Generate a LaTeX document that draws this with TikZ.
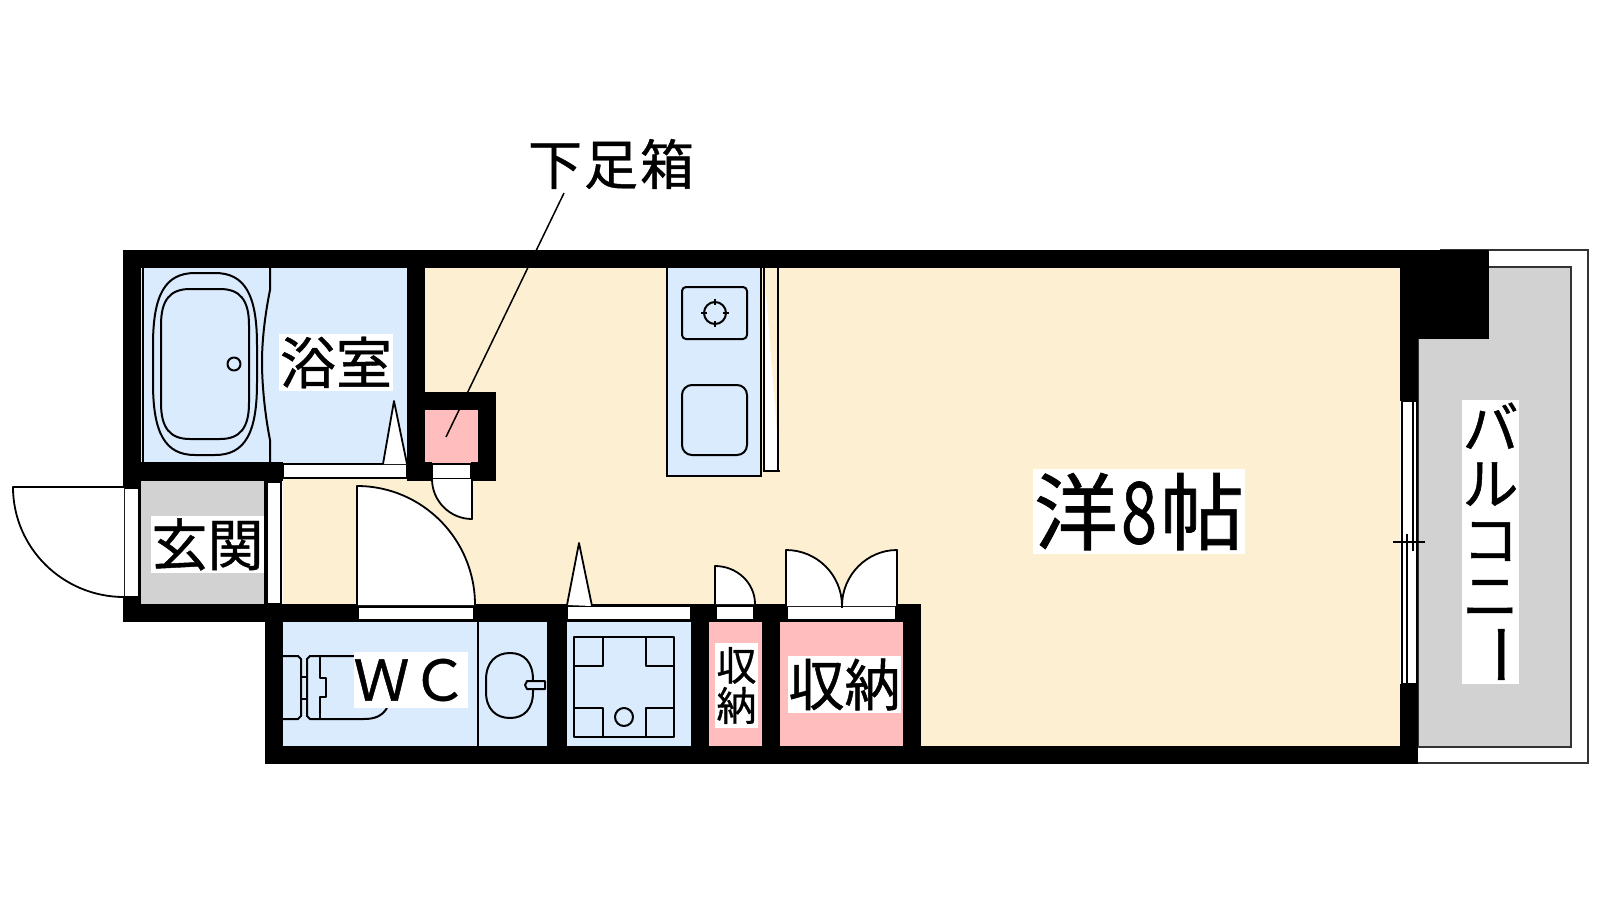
\documentclass[tikz,border=0pt]{standalone}
\usepackage{fontspec}
\usepackage{graphicx}
\newfontfamily\jp[FakeBold=0.8]{Noto Sans CJK JP}
\newcommand{\jpf}[1]{\jp\fontsize{#1}{#1}\selectfont}
\definecolor{beige}{HTML}{FDF0D2}
\definecolor{bluefl}{HTML}{DAEBFE}
\definecolor{grayfl}{HTML}{D2D2D2}
\definecolor{pinkfl}{HTML}{FFBDBD}
\tikzset{
  wall/.style={fill=black,draw=none},
  slot/.style={fill=white,draw=black,line width=1.5pt},
  door/.style={fill=white,draw=black,line width=1.8pt,line join=round},
  fix/.style={draw=black,line width=2pt,line join=round},
  thin line/.style={draw=black,line width=1.5pt},
  lbl/.style={fill=white,inner sep=0pt,text=black,align=center}
}
\begin{document}
\begin{tikzpicture}[x=1pt,y=-1pt]
\useasboundingbox (0,0) rectangle (1600,900);
\fill[white] (0,0) rectangle (1600,900);
% floors
\fill[beige] (425,268) -- (1400,268) -- (1400,746) -- (921,746) -- (921,604) -- (283,604) -- (283,470) -- (425,470) -- cycle;
\fill[bluefl] (141,268) rectangle (407,465);
\fill[grayfl] (141,481) rectangle (264,604);
\fill[bluefl] (283,622) rectangle (547,746);
\fill[bluefl] (567,622) rectangle (691,746);
\fill[pinkfl] (709,622) rectangle (762,746);
\fill[pinkfl] (780,622) rectangle (903,746);
\fill[pinkfl] (425,410) rectangle (478,464);
% balcony
\draw[fill=white,draw=black!80,line width=1.8pt] (1440,250) -- (1588,250) -- (1588,763) -- (1410,763);
\draw[fill=grayfl,draw=black!80,line width=1.8pt] (1418,267) -- (1571,267) -- (1571,747) -- (1418,747) -- cycle;
% walls
\fill[wall] (123,250) rectangle (1418,268);
\fill[wall] (123,250) rectangle (141,622);
\fill[wall] (123,462) rectangle (283,481);
\fill[wall] (407,268) rectangle (425,481);
\fill[wall] (407,392) rectangle (496,410);
\fill[wall] (478,392) rectangle (496,481);
\fill[wall] (425,462) rectangle (432,481);
\fill[wall] (471,462) rectangle (496,481);
\fill[wall] (123,604) rectangle (921,622);
\fill[wall] (265,604) rectangle (283,764);
\fill[wall] (547,604) rectangle (567,764);
\fill[wall] (691,604) rectangle (709,764);
\fill[wall] (762,604) rectangle (780,764);
\fill[wall] (903,604) rectangle (921,764);
\fill[wall] (265,746) rectangle (1418,764);
\fill[wall] (1400,250) rectangle (1418,401);
\fill[wall] (1400,684) rectangle (1418,764);
\fill[wall] (1400,250) rectangle (1489,339);
% openings
\draw[slot] (124,488) rectangle (139,597);
\draw[slot] (267,482) rectangle (281,604);
\draw[thin line] (265,481) -- (265,604);
\draw[slot] (283,464) rectangle (407,478);
\draw[slot] (432,464) rectangle (471,479);
\draw[slot] (358,607) rectangle (474,620);
\draw[slot] (567,606) rectangle (691,620);
\draw[slot] (716,606) rectangle (754,620);
\draw[slot] (787,606) rectangle (896,620);
% balcony window
\fill[white] (1402,401) rectangle (1417,684);
\draw[thin line] (1402,401) -- (1402,684) (1417,401) -- (1417,684) (1402,401) -- (1417,401) (1402,684) -- (1417,684);
\draw[thin line] (1413,401) -- (1413,551);
\draw[thin line] (1407,534) -- (1407,684);
\draw[thin line] (1393,542) -- (1425,542);
% doors
\draw[door] (124,487) -- (13,487) .. controls (13,548) and (63,597) .. (124,597);
\draw[door] (357,605) -- (357,486) .. controls (422,486) and (475,539) .. (475,605);
\draw[door] (472,479) -- (472,519) .. controls (450,519) and (432,501) .. (432,479);
\draw[door] (715,604) -- (715,566) .. controls (737,566) and (755,583) .. (755,604);
\draw[door] (786,606) -- (786,550) .. controls (817,550) and (842,575) .. (842,606);
\draw[door] (897,606) -- (897,550) .. controls (867,550) and (842,575) .. (842,606);
\draw[door] (383,464) -- (394,401) -- (407,464);
\draw[door] (567,605) -- (579,543) -- (592,606);
% bath
\draw[thin line] (143,268) -- (143,462);
\draw[fix] (153,345) .. controls (153,295) and (165,273) .. (195,273) -- (215,273) .. controls (245,273) and (257,295) .. (257,345) -- (257,383) .. controls (257,433) and (245,455) .. (215,455) -- (195,455) .. controls (165,455) and (153,433) .. (153,383) -- cycle;
\draw[fix] (161,325) .. controls (161,300) and (170,289) .. (190,289) -- (220,289) .. controls (240,289) and (249,300) .. (249,325) -- (249,403) .. controls (249,428) and (240,439) .. (220,439) -- (190,439) .. controls (170,439) and (161,428) .. (161,403) -- cycle;
\draw[fix] (234,364) circle[radius=6.5];
\draw[fix] (270,268) -- (270,290) .. controls (265,315) and (262,340) .. (262,362) .. controls (262,385) and (265,415) .. (270,440) -- (270,462);
% kitchen
\draw[thin line,fill=bluefl] (667,268) -- (667,476) -- (761,476) -- (761,268);
\draw[thin line,fill=white] (764,268) -- (764,471) -- (780,471) (778,471) -- (778,268);
\draw[fix,rounded corners=4pt] (682,287) rectangle (747,339);
\draw[fix] (715,313) circle[radius=11];
\draw[fix] (715,299) -- (715,305) (715,321) -- (715,327) (701,313) -- (707,313) (723,313) -- (729,313);
\draw[fix,rounded corners=10pt] (682,385) rectangle (747,455);
% WC
\draw[thin line] (478,622) -- (478,746);
\draw[fix] (283,656) -- (298,656) -- (301,659) -- (301,716) -- (298,719) -- (283,719);
\draw[fix] (301,677) -- (307,677) (301,699) -- (307,699);
\draw[fix] (354,656) -- (310,656) -- (307,659) -- (307,716) -- (310,719) -- (364,719) .. controls (375,719) and (382,716) .. (387,708);
\draw[fix] (320,656) -- (320,678) -- (326,678) -- (326,697) -- (320,697) -- (320,719);
\draw[fix] (486,680) .. controls (486,662) and (496,653) .. (510,653) .. controls (524,653) and (533,662) .. (533,680) -- (533,692) .. controls (533,709) and (524,718) .. (510,718) .. controls (496,718) and (486,709) .. (486,692) -- cycle;
\draw[fix,fill=bluefl] (527,681) -- (545,681) -- (545,689) -- (527,689) -- (525,685) -- cycle;
% washing unit
\draw[fix] (574,637) rectangle (674,737);
\draw[fix] (603,637) -- (603,666) -- (574,666);
\draw[fix] (646,637) -- (646,666) -- (674,666);
\draw[fix] (603,737) -- (603,708) -- (574,708);
\draw[fix] (646,737) -- (646,708) -- (674,708);
\draw[fix] (624,717) circle[radius=9];
\draw[thin line] (842,600) -- (842,608);
% labels
\node[lbl,minimum width=114pt,minimum height=57pt,font=\jpf{56}] (bath) at (336,362.5) {浴室};
\node[lbl,minimum width=113pt,minimum height=57pt,font=\jpf{56}] (genkan) at (207.5,544.5) {玄関};
\node[lbl,minimum width=113pt,minimum height=56pt,font=\jpf{56}] (wc) at (410.5,680) {Ｗ\kern2ptＣ};
\node[lbl,minimum width=113pt,minimum height=57pt,font=\jpf{56}] (store2) at (844.5,684.5) {収納};
\node[lbl,minimum width=43pt,minimum height=85pt,font=\jpf{40}] (store1) at (736.5,685.5) {収\\納};
\node[lbl,minimum width=212pt,minimum height=85pt,font=\jpf{84}] (room) at (1139,511.5) {洋\hbox to 42pt{\hss\resizebox{36pt}{62pt}{8}\hss}帖};
\node[lbl,minimum width=57pt,minimum height=284pt,font=\jpf{56}] (balcony) at (1490.5,542) {バ\\ル\\コ\\ニ\\\smash{\raisebox{4pt}{\rotatebox[origin=c]{-90}{\resizebox{64pt}{!}{ー}}}}\rule[-9pt]{0pt}{9pt}};
\node[inner sep=0pt,font=\jpf{54}] (shoe) at (611,164) {下\kern2pt足\kern2pt箱};
\coordinate (shoeend) at (446,437);
\draw[thin line] (564,193) -- (shoeend);
\end{tikzpicture}
\end{document}
